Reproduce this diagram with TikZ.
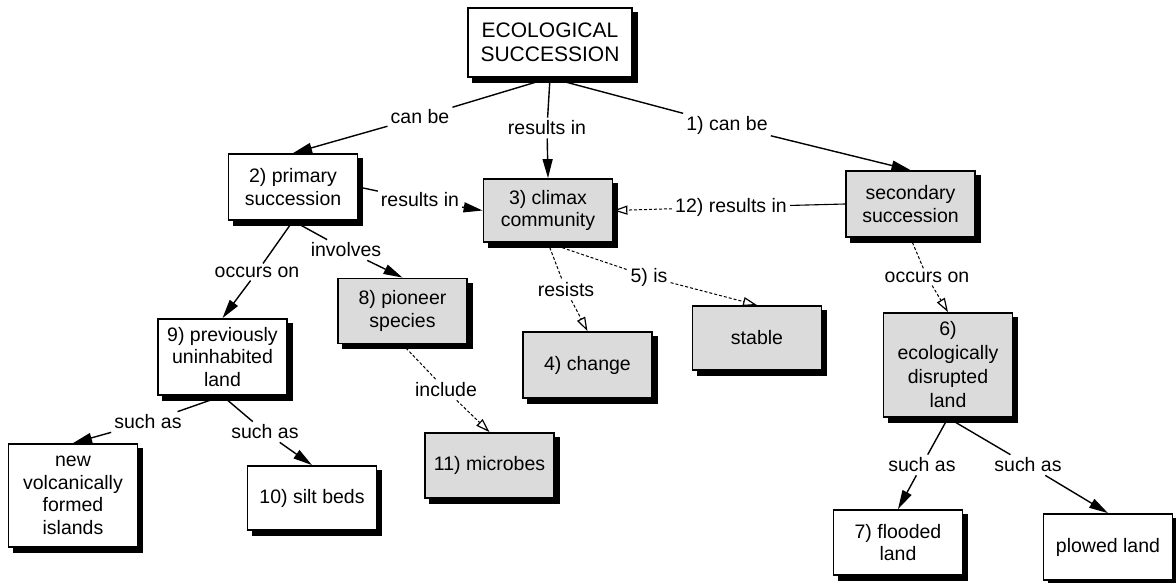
\documentclass[tikz,border=0pt]{standalone}
\usepackage{fontspec}
\setmainfont{Liberation Sans}
\usetikzlibrary{arrows.meta,backgrounds}
\begin{document}
\begin{tikzpicture}[x=1pt,y=-1pt,
 box/.style={draw=black, line width=1.8pt, fill=white, align=center, inner sep=0pt,
   font=\fontsize{19.5}{22.5}\selectfont, minimum width=129pt},
 sbox/.style={box, fill=black!14},
 lbl/.style={font=\fontsize{19.5}{22.5}\selectfont, inner sep=3pt},
 conn/.style={line width=1.4pt},
 fconn/.style={conn, -{Triangle[length=19pt,width=10pt]}},
 oline/.style={line width=1pt, densely dashed},
 oconn/.style={oline, -{Triangle[open,length=14pt,width=9pt,line width=1.2pt]}},
 shadowfill/.style={fill=black},
]
\useasboundingbox (0,0) rectangle (1176,583);

% concept boxes
\node[box, minimum width=164pt, minimum height=69pt, font=\fontsize{21}{23.5}\selectfont] (esc) at (550,42.5) {ECOLOGICAL\\SUCCESSION};
\node[box, minimum height=66pt] (prim) at (293,187) {2) primary\\succession};
\node[sbox, minimum height=63pt] (clim) at (548,210.5) {3) climax\\community};
\node[sbox, minimum height=66pt] (sec) at (910.5,204) {secondary\\succession};
\node[sbox, minimum height=65pt] (pion) at (402.5,311) {8) pioneer\\species};
\node[box, minimum height=76pt] (prev) at (222.5,357) {9) previously\\uninhabited\\land};
\node[sbox, minimum height=66pt] (chg) at (587.5,365) {4) change};
\node[sbox, minimum height=64pt] (stab) at (757,338) {stable};
\node[sbox, minimum height=104pt, font=\fontsize{19.5}{24}\selectfont] (eco) at (948,365) {6)\\ecologically\\disrupted\\land};
\node[box, minimum height=103pt] (volc) at (73,495.5) {new\\volcanically\\formed\\islands};
\node[box, minimum height=64pt] (silt) at (312,498) {10) silt beds};
\node[sbox, minimum height=65pt] (micr) at (489.5,465.5) {11) microbes};
\node[box, minimum height=65pt] (flood) at (898,542.5) {7) flooded\\land};
\node[box, minimum height=66pt] (plow) at (1108,547) {plowed land};

% drop shadows behind the boxes
\begin{scope}[on background layer]
\foreach \n in {esc,prim,clim,sec,pion,prev,chg,stab,eco,volc,silt,micr,flood,plow}{
  \fill[shadowfill] ([shift={(5,5)}]\n.north west) rectangle ([shift={(5,5)}]\n.south east);
}
\end{scope}

% link labels
\node[lbl] (l1) at (420,117) {can be};
\node[lbl] (l2) at (547,128) {results in};
\node[lbl] (l3) at (727,125) {1) can be};
\node[lbl] (l4) at (420,200) {results in};
\node[lbl] (l5) at (731,207) {12) results in};
\node[lbl] (l6) at (346,250) {involves};
\node[lbl] (l7) at (257,272) {occurs on};
\node[lbl] (l8) at (566,290) {resists};
\node[lbl] (l9) at (649,277) {5) is};
\node[lbl] (l10) at (927,277) {occurs on};
\node[lbl] (l11) at (446,390) {include};
\node[lbl] (l12) at (148,422) {such as};
\node[lbl] (l13) at (265,432) {such as};
\node[lbl] (l14) at (922,465) {such as};
\node[lbl] (l15) at (1028,465) {such as};

% connectors
\draw[conn] (esc.south) -- (l1);  \draw[fconn] (l1) -- (prim.north);
\draw[conn] (esc.south) -- (l2);  \draw[fconn] (l2) -- (clim.north);
\draw[conn] (esc.south) -- (l3);  \draw[fconn] (l3) -- (sec.north);
\draw[conn] (prim.east) -- (l4);  \draw[fconn] (l4) -- (clim.west);
\draw[conn, line width=1.1pt] (sec.west) -- (l5);  \draw[oconn] (l5) -- (clim.east);
\draw[conn] (prim.south) -- (l6); \draw[fconn] (l6) -- (pion.north);
\draw[conn] (prim.south) -- (l7); \draw[fconn] (l7) -- (prev.north);
\draw[oline] (clim.south) -- (l8); \draw[oconn] (l8) -- (chg.north);
\draw[oline] (clim.south) -- (l9); \draw[oconn] (l9) -- (stab.north);
\draw[oline] (sec.south) -- (l10); \draw[oconn] (l10) -- (eco.north);
\draw[oline] (pion.south) -- (l11); \draw[oconn] (l11) -- (micr.north);
\draw[conn] (prev.south) -- (l12); \draw[fconn] (l12) -- (volc.north);
\draw[conn] (prev.south) -- (l13); \draw[fconn] (l13) -- (silt.north);
\draw[conn] (eco.south) -- (l14); \draw[fconn] (l14) -- (flood.north);
\draw[conn] (eco.south) -- (l15); \draw[fconn] (l15) -- (plow.north);
\end{tikzpicture}
\end{document}
